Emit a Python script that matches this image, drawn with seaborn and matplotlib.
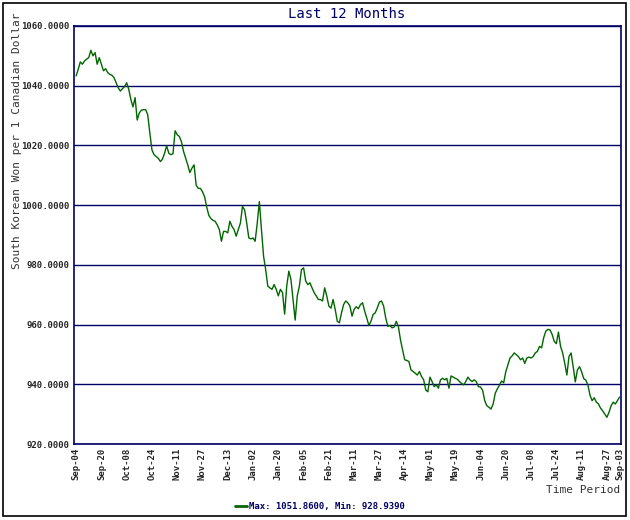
import numpy as np
import pandas as pd
import matplotlib
matplotlib.use("Agg")
import matplotlib.pyplot as plt
import seaborn as sns
from matplotlib.patches import Rectangle

# Daily KRW per 1 CAD (trading days, Sep-04 .. Sep-03)
rates_sep_nov = [
    1043.3, 1045.5, 1048.0, 1047.2, 1048.3, 1048.9, 1049.4, 1051.86, 1050.0, 1051.1,
    1047.2, 1049.4, 1047.2, 1045.0, 1045.7, 1044.4, 1043.8, 1043.5, 1042.7, 1041.0,
    1039.3, 1038.2, 1039.0, 1039.7, 1041.0, 1038.8, 1035.4, 1032.9, 1036.0, 1028.5,
    1030.9, 1031.8, 1032.0, 1032.0, 1030.3, 1024.2, 1018.5, 1016.9, 1016.3, 1015.7,
    1014.6, 1015.4, 1017.4, 1019.9, 1017.4, 1016.9, 1017.2, 1024.9, 1023.6, 1023.0,
    1021.3, 1018.0, 1015.7, 1013.5, 1010.9, 1012.4, 1013.5, 1006.7, 1005.6, 1005.6,
    1004.5, 1002.8, 999.4, 996.6, 995.5,
]
rates_dec_feb = [
    994.9, 994.6, 993.4, 991.8, 987.9, 991.2, 991.2, 990.7, 994.6, 992.9,
    991.8, 989.6, 991.8, 994.0, 999.6, 998.4, 994.0, 989.0, 988.7, 989.0,
    987.9, 994.0, 1001.2, 991.8, 982.9, 978.4, 972.9, 972.3, 971.8, 973.4,
    971.8, 969.6, 971.8, 970.7, 963.5, 972.9, 977.9, 975.1, 968.4, 961.5,
    969.6, 972.9, 978.4, 979.0, 974.6, 973.4, 974.0, 972.3, 970.7, 969.6,
    968.4, 968.4, 967.9, 972.3, 969.6, 966.2, 965.5, 968.4, 965.1, 961.1,
    960.6, 963.9, 966.7, 967.9, 967.3,
]
rates_mar_may = [
    966.2, 962.8, 965.1, 966.0, 965.3, 966.7, 967.3, 964.5, 962.2, 959.7,
    961.1, 963.4, 963.9, 965.6, 967.5, 967.9, 966.2, 962.2, 959.4, 959.7,
    958.9, 959.2, 961.1, 959.4, 954.9, 951.6, 948.2, 948.0, 947.6, 944.8,
    944.3, 943.7, 943.1, 944.3, 942.6, 941.5, 938.1, 937.5, 942.4, 940.9,
    939.2, 939.8, 938.7, 941.5, 942.0, 941.5, 942.0, 938.7, 942.8, 942.4,
    942.0, 941.7, 940.9, 940.3, 939.8, 940.9, 942.4, 941.5, 940.9, 941.5,
    940.9, 939.2, 939.1, 938.0,
]
rates_jun_sep = [
    934.5, 932.8, 932.3, 931.7, 933.4, 937.0, 938.5, 939.7, 941.1, 940.5,
    944.2, 946.5, 948.8, 949.5, 950.5, 949.9, 949.3, 948.2, 948.8, 947.0,
    948.8, 949.1, 948.8, 949.3, 950.5, 951.0, 952.7, 952.2, 955.6, 957.8,
    958.4, 958.2, 956.7, 954.4, 953.6, 957.5, 952.7, 950.5, 947.0, 943.1,
    949.3, 950.5, 945.9, 940.8, 944.8, 945.9, 944.2, 941.9, 941.4, 939.7,
    936.3, 934.5, 935.5, 934.0, 933.4, 932.0, 931.1, 930.0, 928.939, 930.6,
    932.8, 934.0, 933.4, 934.5, 935.7,
]

tick_labels = ["Sep-04", "Sep-20", "Oct-08", "Oct-24", "Nov-11", "Nov-27",
               "Dec-13", "Jan-02", "Jan-20", "Feb-05", "Feb-21", "Mar-11",
               "Mar-27", "Apr-14", "May-01", "May-19", "Jun-04", "Jun-20",
               "Jul-08", "Jul-24", "Aug-11", "Aug-27", "Sep-03"]
tick_step = 12  # trading days between labels

rates = rates_sep_nov + rates_dec_feb + rates_mar_may + rates_jun_sep
df = pd.DataFrame({"day": np.arange(len(rates)), "rate": rates})

navy = "#000066"
green = "#006600"
mono = "DejaVu Sans Mono"

sns.set_style("white")
plt.rcParams["font.family"] = [mono]

fig = plt.figure(figsize=(6.3, 5.2), dpi=100)
ax = fig.add_axes([74 / 630, 1 - 444 / 520, (621 - 74) / 630, (444 - 26) / 520])

sns.lineplot(data=df, x="day", y="rate", ax=ax, color=green, linewidth=1.0,
             label="Max: %.4f, Min: %.4f" % (max(rates), min(rates)))

ax.set_ylim(920, 1060)
ax.set_xlim(-1, len(rates) - 0.3)
ax.set_yticks(np.arange(920, 1061, 20))
ax.yaxis.set_major_formatter(matplotlib.ticker.FormatStrFormatter("%.4f"))

positions = [i * tick_step for i in range(len(tick_labels) - 1)] + [len(rates) - 1]
ax.set_xticks(positions)
ax.set_xticklabels(tick_labels, rotation=90)
ax.tick_params(axis="x", length=0, pad=3, labelsize=6.5)
ax.tick_params(axis="y", length=0, pad=3, labelsize=6.5)
for t in ax.get_xticklabels() + ax.get_yticklabels():
    t.set_fontweight("bold")

ax.grid(axis="y", color=navy, linewidth=1.0)
ax.grid(axis="x", visible=False)
for side in ["left", "right", "top", "bottom"]:
    ax.spines[side].set_color(navy)
    ax.spines[side].set_linewidth(1.2)

ax.set_xlabel("")
ax.set_ylabel("")
ax.legend_.remove()

fig.text(347 / 630, 1 - 14 / 520, "Last 12 Months", ha="center", va="center",
         color=navy, fontsize=10)
fig.text(17 / 630, 1 - 141 / 520, "South Korean Won per 1 Canadian Dollar",
         rotation=90, ha="center", va="center", color="#333333", fontsize=8)
fig.text(620 / 630, 1 - 490 / 520, "Time Period", ha="right", va="center",
         color="#333333", fontsize=8)

handles, labels = ax.get_legend_handles_labels()
leg = fig.legend(handles, labels, loc="center", bbox_to_anchor=(320 / 630, 1 - 507 / 520),
                 frameon=False, fontsize=6.5, handlelength=1.3, handletextpad=0.3)
for t in leg.get_texts():
    t.set_color(navy)
    t.set_fontweight("bold")
for ln in leg.get_lines():
    ln.set_linewidth(2)

fig.patches.append(Rectangle((3 / 630, 1 - 516 / 520), 623 / 630, 513 / 520,
                             transform=fig.transFigure, fill=False,
                             edgecolor="black", linewidth=1.2))

fig.savefig("out.png", dpi=100)
